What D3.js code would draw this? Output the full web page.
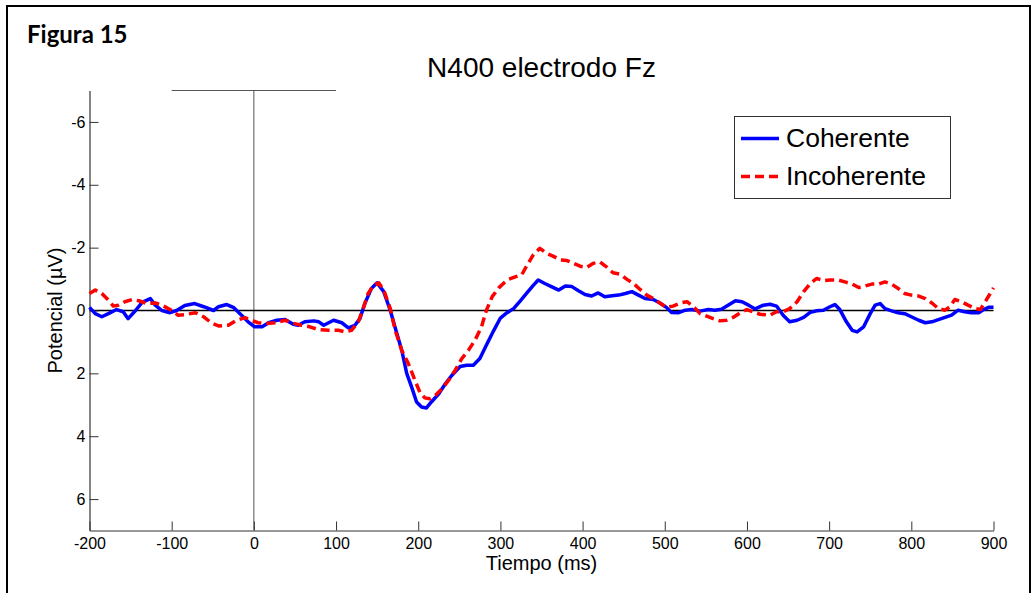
<!DOCTYPE html>
<html>
<head>
<meta charset="utf-8">
<script src="https://cdn.jsdelivr.net/npm/d3@7"></script>
<style>
  html, body { margin: 0; padding: 0; background: #fff; }
  svg { display: block; }
</style>
</head>
<body>
<svg id="chart" width="1035" height="593"></svg>
<script>
// ERP averages at the Fz electrode (µV, negative plotted upward)
const tiemposCoherente = [
  -200,-193,-185,-177,-167,-159,-153,-144,-136,-126,-120,-112,-102,-94,-84,-72,-61,-49,-43,-33,-25,-15,-7,
  1,10,18,28,38,48,54,62,73,79,85,97,107,115,123,129,135,143,150,158,166,174,180,186,192,198,204,210,216,
  225,233,241,251,259,267,275,283,292,300,308,316,324,332,340,346,354,362,371,379,387,395,403,411,419,427,
  436,444,452,460,468,476,486,494,502,508,517,525,533,543,553,561,569,577,586,594,602,610,620,628,636,644,
  652,661,669,677,685,693,701,707,713,721,728,734,742,750,756,762,768,776,784,792,800,809,817,825,833,841,
  849,857,865,873,882,888,894,900
];
const coherente = [
  -0.10,0.10,0.20,0.10,-0.03,0.04,0.26,0.00,-0.26,-0.38,-0.17,0.00,0.07,0.00,-0.16,-0.22,-0.12,0.00,-0.12,-0.19,-0.10,0.15,0.36,
  0.52,0.52,0.39,0.31,0.29,0.44,0.47,0.36,0.33,0.36,0.47,0.31,0.39,0.55,0.47,0.26,-0.22,-0.70,-0.88,-0.60,0.00,0.73,1.27,2.00,2.44,2.91,3.07,3.10,2.91,
  2.65,2.33,2.06,1.78,1.74,1.74,1.53,1.10,0.63,0.24,0.07,-0.06,-0.30,-0.55,-0.80,-0.97,-0.86,-0.76,-0.65,-0.78,-0.76,-0.63,-0.51,-0.46,-0.56,-0.44,
  -0.47,-0.49,-0.54,-0.60,-0.49,-0.38,-0.35,-0.24,-0.10,0.06,0.07,-0.01,-0.03,0.02,-0.03,-0.01,-0.04,-0.17,-0.31,-0.28,-0.17,-0.05,-0.17,-0.20,-0.14,0.15,
  0.36,0.31,0.22,0.06,0.01,-0.01,-0.12,-0.19,-0.03,0.36,0.63,0.68,0.52,0.10,-0.17,-0.22,-0.06,0.01,0.07,0.10,0.20,0.31,0.39,0.36,0.29,0.22,
  0.15,-0.01,0.04,0.07,0.07,-0.03,-0.10,-0.10
];

const tiemposIncoherente = [
  -200,-193,-185,-177,-171,-165,-157,-148,-140,-130,-120,-112,-102,-92,-84,-71,-61,-51,-43,-31,-21,-11,-3,
  5,16,26,38,48,58,68,79,91,103,111,119,127,133,139,146,152,158,166,172,180,188,196,202,208,214,221,229,237,
  245,253,261,269,277,283,290,298,308,318,326,332,340,348,356,364,373,381,389,397,405,413,421,429,437,446,
  454,462,470,478,486,494,502,510,519,527,535,543,551,559,567,575,583,592,600,608,616,628,636,644,652,661,
  669,677,685,693,701,711,719,728,736,744,752,760,768,776,784,792,800,809,817,825,833,841,847,853,861,869,
  878,884,890,896,900
];
const incoherente = [
  -0.54,-0.65,-0.54,-0.33,-0.14,-0.17,-0.28,-0.35,-0.31,-0.22,-0.24,-0.17,-0.03,0.15,0.13,0.07,0.20,0.41,0.49,0.47,0.31,0.23,0.31,
  0.39,0.41,0.39,0.31,0.41,0.47,0.52,0.61,0.63,0.63,0.68,0.63,0.36,-0.06,-0.54,-0.81,-0.88,-0.65,-0.06,0.63,1.27,1.69,2.22,2.60,2.78,2.81,2.70,2.49,2.22,
  1.90,1.53,1.27,0.95,0.52,-0.01,-0.44,-0.72,-0.97,-1.07,-1.14,-1.42,-1.77,-1.98,-1.82,-1.73,-1.61,-1.59,-1.50,-1.41,-1.37,-1.50,-1.55,-1.39,-1.20,-1.15,
  -0.99,-0.86,-0.67,-0.49,-0.38,-0.24,-0.10,-0.14,-0.24,-0.28,-0.12,0.10,0.18,0.26,0.33,0.31,0.22,0.07,-0.03,0.05,0.12,0.15,0.04,0.04,-0.06,-0.28,
  -0.60,-0.86,-1.02,-0.95,-0.97,-0.97,-0.91,-0.84,-0.73,-0.78,-0.84,-0.84,-0.91,-0.84,-0.70,-0.54,-0.49,-0.46,-0.38,-0.24,-0.06,-0.01,-0.12,-0.35,-0.28,-0.17,
  -0.06,-0.03,-0.28,-0.54,-0.72
];

const ticksX = [-200,-100,0,100,200,300,400,500,600,700,800,900];
const ticksY = [-6,-4,-2,0,2,4,6];
const series = [
  { nombre: "Coherente", t: tiemposCoherente, v: coherente, color: "#0000ff", dash: null },
  { nombre: "Incoherente", t: tiemposIncoherente, v: incoherente, color: "#ff0000", dash: "9,5" }
];

(function () {
  const svg = d3.select("#chart");
  const mLeft = 89.5, mRight = 993.5, mTop = 90.5, mBottom = 530.5;

  const x = d3.scaleLinear().domain([-200, 900]).range([mLeft, mRight]);
  // negative potentials are drawn upward
  const y = d3.scaleLinear().domain([-7, 7]).range([mTop, mBottom]);

  const font = "'Liberation Sans', Arial, sans-serif";

  // figure frame
  svg.append("rect")
    .attr("x", 7).attr("y", 6).attr("width", 1023).attr("height", 600)
    .attr("fill", "none").attr("stroke", "#000").attr("stroke-width", 2);

  svg.append("text")
    .attr("x", 27).attr("y", 43)
    .attr("font-family", "Lato, 'Open Sans', sans-serif")
    .attr("font-weight", "bold").attr("font-size", 24)
    .text("Figura 15");

  svg.append("text")
    .attr("x", (mLeft + mRight) / 2).attr("y", 77)
    .attr("text-anchor", "middle")
    .attr("font-family", font).attr("font-size", 28)
    .text("N400 electrodo Fz");

  // stimulus onset marker: vertical line at 0 ms and bar from -100 to 100 ms
  svg.append("line")
    .attr("x1", x(0)).attr("x2", x(0)).attr("y1", y(-7)).attr("y2", y(7))
    .attr("stroke", "#555").attr("stroke-width", 1);
  svg.append("line")
    .attr("x1", x(-100)).attr("x2", x(100)).attr("y1", y(-7)).attr("y2", y(-7))
    .attr("stroke", "#555").attr("stroke-width", 1);

  // zero baseline
  svg.append("line")
    .attr("x1", x(-200)).attr("x2", x(900)).attr("y1", y(0)).attr("y2", y(0))
    .attr("stroke", "#000").attr("stroke-width", 1.3);

  // axes with inward ticks
  const fmt = d => String(d);
  const xAxis = d3.axisBottom(x).tickValues(ticksX).tickFormat(fmt)
    .tickSizeInner(-9).tickSizeOuter(0).tickPadding(7);
  const yAxis = d3.axisLeft(y).tickValues(ticksY).tickFormat(fmt)
    .tickSizeInner(-9).tickSizeOuter(0).tickPadding(4);

  const gx = svg.append("g").attr("transform", `translate(0,${mBottom})`).call(xAxis);
  const gy = svg.append("g").attr("transform", `translate(${mLeft},0)`).call(yAxis);
  [gx, gy].forEach(g => {
    g.select(".domain").attr("stroke", "#333").attr("stroke-width", 1.2);
    g.selectAll(".tick line").attr("stroke", "#333");
    g.selectAll("text").attr("font-family", font).attr("font-size", 16).attr("fill", "#000");
  });

  svg.append("text")
    .attr("x", (mLeft + mRight) / 2).attr("y", 569.5)
    .attr("text-anchor", "middle")
    .attr("font-family", font).attr("font-size", 20)
    .text("Tiempo (ms)");

  svg.append("text")
    .attr("transform", `translate(62,${y(0)}) rotate(-90)`)
    .attr("text-anchor", "middle")
    .attr("font-family", font).attr("font-size", 20)
    .text("Potencial (µV)");

  // waveforms
  const line = d3.line().x(d => x(d[0])).y(d => y(d[1]));
  series.forEach(s => {
    const pts = s.t.map((t, i) => [t, s.v[i]]);
    svg.append("path")
      .datum(pts)
      .attr("d", line)
      .attr("fill", "none")
      .attr("stroke", s.color)
      .attr("stroke-width", 3.5)
      .attr("stroke-linejoin", "round")
      .attr("stroke-dasharray", s.dash);
  });

  // legend
  const lg = svg.append("g");
  lg.append("rect")
    .attr("x", 734.5).attr("y", 116.5).attr("width", 216).attr("height", 82)
    .attr("fill", "#fff").attr("stroke", "#333").attr("stroke-width", 1);
  series.forEach((s, i) => {
    const ly = 138.5 + i * 38;
    lg.append("line")
      .attr("x1", 741).attr("x2", 779).attr("y1", ly).attr("y2", ly)
      .attr("stroke", s.color).attr("stroke-width", 3.5)
      .attr("stroke-dasharray", s.dash);
    lg.append("text")
      .attr("x", 786).attr("y", ly + 8.5)
      .attr("font-family", font).attr("font-size", 26.5)
      .text(s.nombre);
  });
})();
</script>
</body>
</html>
